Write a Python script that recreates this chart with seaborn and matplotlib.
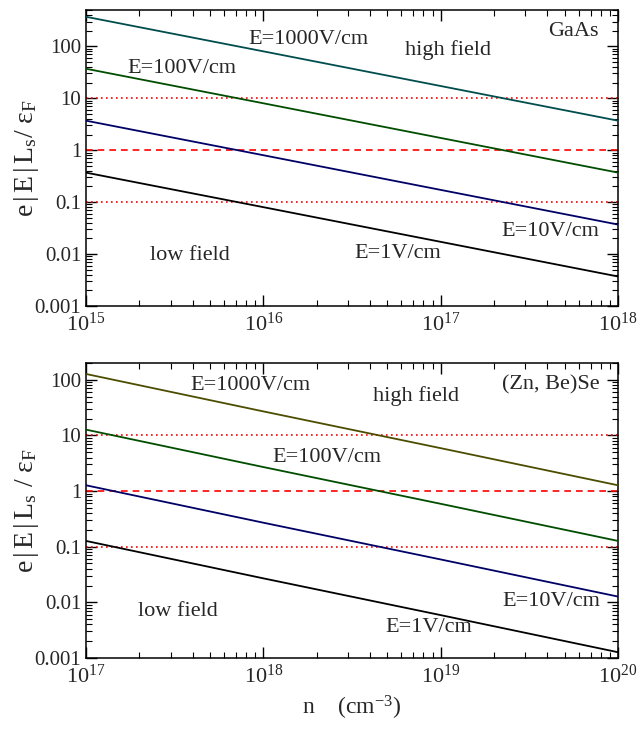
import numpy as np
import pandas as pd
import seaborn as sns
import matplotlib
matplotlib.use("Agg")
import matplotlib.pyplot as plt
from matplotlib.ticker import LogLocator, FixedLocator, NullFormatter

sns.set_style("ticks")
plt.rcParams['font.family'] = ['Liberation Serif', 'DejaVu Serif']
plt.rcParams['mathtext.fontset'] = 'custom'
plt.rcParams['mathtext.rm'] = 'Liberation Serif'
plt.rcParams['mathtext.it'] = 'Liberation Serif:italic'
plt.rcParams['mathtext.bf'] = 'Liberation Serif:bold'

# ---- data ----
fields = ["E=1V/cm", "E=10V/cm", "E=100V/cm", "E=1000V/cm"]

gaas_n = [1e15, 1e16, 1e17, 1e18]
gaas_E1 = [0.37, 0.080, 0.0172, 0.0037]
gaas_E10 = [3.7, 0.80, 0.172, 0.037]
gaas_E100 = [37, 8.0, 1.72, 0.37]
gaas_E1000 = [370, 80, 17.2, 3.7]

znbese_n = [1e17, 1e18, 1e19, 1e20]
znbese_E1 = [0.127, 0.027, 0.0059, 0.00127]
znbese_E10 = [1.27, 0.27, 0.059, 0.0127]
znbese_E100 = [12.7, 2.7, 0.59, 0.127]
znbese_E1000 = [127, 27, 5.9, 1.27]

ref_levels = [10, 1, 0.1]
ref_styles = [":", "--", ":"]

gaas_xticks = [1e15, 1e16, 1e17, 1e18]
gaas_xticklabels = [r"$10^{15}$", r"$10^{16}$", r"$10^{17}$", r"$10^{18}$"]
znbese_xticks = [1e17, 1e18, 1e19, 1e20]
znbese_xticklabels = [r"$10^{17}$", r"$10^{18}$", r"$10^{19}$", r"$10^{20}$"]
yticks = [0.001, 0.01, 0.1, 1, 10, 100]
yticklabels = ["0.001", "0.01", "0.1", "1", "10", "100"]


def make_df(n, series):
    rows = []
    for name, vals in zip(fields, series):
        for x, v in zip(n, vals):
            rows.append({"n": x, "val": v, "field": name})
    return pd.DataFrame(rows)


df_top = make_df(gaas_n, [gaas_E1, gaas_E10, gaas_E100, gaas_E1000])
df_bot = make_df(znbese_n, [znbese_E1, znbese_E10, znbese_E100, znbese_E1000])

pal_top = {"E=1V/cm": "#000000", "E=10V/cm": "#000066",
           "E=100V/cm": "#004d00", "E=1000V/cm": "#004d4d"}
pal_bot = {"E=1V/cm": "#000000", "E=10V/cm": "#000066",
           "E=100V/cm": "#004d00", "E=1000V/cm": "#4d4d00"}

fig = plt.figure(figsize=(6.44, 7.30), dpi=100)
ax1 = fig.add_axes([86 / 644, 1 - 306 / 730, 532 / 644, 296 / 730])
ax2 = fig.add_axes([86 / 644, 1 - 658 / 730, 532 / 644, 295 / 730])

FS = 16
YLAB_TOP = r"e$\,|\,$E$\,|\,$L$_{\rm s}$/ ε$_{\rm F}$"
YLAB_BOT = r"e$\,|\,$E$\,|\,$L$_{\rm s}$ / ε$_{\rm F}$"


def style_axis(ax, df, pal, xlim, ylim, xticks, xticklabels, ylab):
    for lvl, ls in zip(ref_levels, ref_styles):
        ax.axhline(lvl, color="red", ls=ls, lw=1.2, zorder=1,
                   dashes=(4, 3) if ls == "--" else (1, 2))
    sns.lineplot(data=df, x="n", y="val", hue="field", palette=pal,
                 ax=ax, legend=False, lw=1.3, zorder=3)
    ax.set_xscale("log")
    ax.set_yscale("log")
    ax.set_xlim(*xlim)
    ax.set_ylim(*ylim)
    ax.xaxis.set_major_locator(FixedLocator(xticks))
    ax.set_xticklabels(xticklabels)
    ax.xaxis.set_minor_locator(LogLocator(base=10, subs=np.arange(2, 10), numticks=20))
    ax.xaxis.set_minor_formatter(NullFormatter())
    ax.yaxis.set_major_locator(FixedLocator(yticks))
    ax.set_yticklabels(yticklabels)
    ax.yaxis.set_minor_locator(LogLocator(base=10, subs=np.arange(2, 10), numticks=20))
    ax.yaxis.set_minor_formatter(NullFormatter())
    ax.tick_params(which="both", direction="in", top=True, right=True,
                   color="black")
    ax.tick_params(axis="y", labelsize=15)
    ax.tick_params(axis="x", labelsize=16, pad=5)
    ax.tick_params(which="major", length=8, width=1)
    ax.tick_params(which="minor", length=4, width=0.8)
    for s in ax.spines.values():
        s.set_linewidth(1.1)
        s.set_color("black")
    ax.set_xlabel("")
    ax.set_ylabel(ylab, fontsize=20)
    ax.yaxis.set_label_coords(-0.085, 0.5)


style_axis(ax1, df_top, pal_top, (1e15, 1e18), (0.001, 500),
           gaas_xticks, gaas_xticklabels, YLAB_TOP)
style_axis(ax2, df_bot, pal_bot, (1e17, 1e20), (0.001, 200),
           znbese_xticks, znbese_xticklabels, YLAB_BOT)

# annotations top
t = dict(fontsize=FS, ha="left", va="center")
ax1.text(0.305, 0.899, "E=1000V/cm", transform=ax1.transAxes, **t)
ax1.text(0.077, 0.804, "E=100V/cm", transform=ax1.transAxes, **t)
ax1.text(0.60, 0.865, "high field", transform=ax1.transAxes, **t)
ax1.text(0.868, 0.926, "GaAs", transform=ax1.transAxes, **t)
ax1.text(0.78, 0.253, "E=10V/cm", transform=ax1.transAxes, **t)
ax1.text(0.504, 0.176, "E=1V/cm", transform=ax1.transAxes, **t)
ax1.text(0.12, 0.172, "low field", transform=ax1.transAxes, **t)

# annotations bottom
ax2.text(0.197, 0.925, "E=1000V/cm", transform=ax2.transAxes, **t)
ax2.text(0.539, 0.888, "high field", transform=ax2.transAxes, **t)
ax2.text(0.782, 0.925, "(Zn, Be)Se", transform=ax2.transAxes, **t)
ax2.text(0.351, 0.678, "E=100V/cm", transform=ax2.transAxes, **t)
ax2.text(0.782, 0.19, "E=10V/cm", transform=ax2.transAxes, **t)
ax2.text(0.562, 0.105, "E=1V/cm", transform=ax2.transAxes, **t)
ax2.text(0.098, 0.156, "low field", transform=ax2.transAxes, **t)

ax2.set_xlabel(r"n    (cm$^{-3}$)", fontsize=17, labelpad=4)

fig.savefig("out.png", dpi=100)
